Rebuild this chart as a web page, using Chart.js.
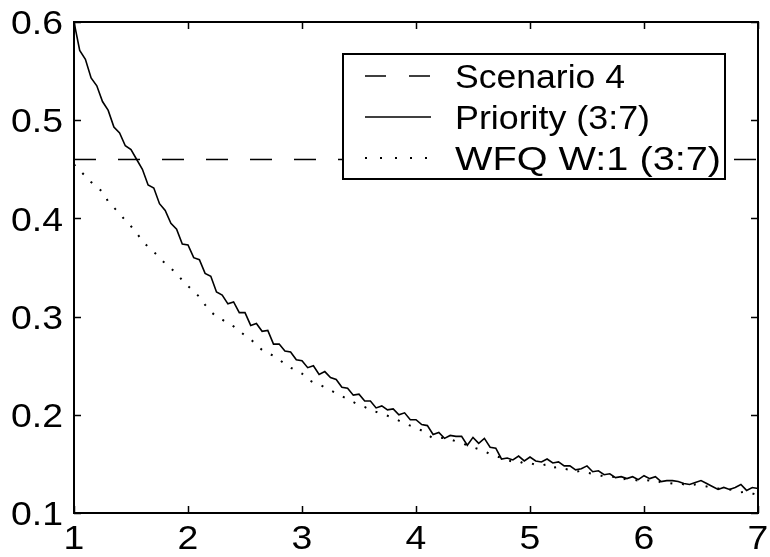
<!DOCTYPE html>
<html>
<head>
<meta charset="utf-8">
<script src="https://cdn.jsdelivr.net/npm/chart.js@4.4.1/dist/chart.umd.min.js"></script>
<style>
  html, body { margin: 0; padding: 0; background: #fff; }
</style>
</head>
<body>
<canvas id="chart" width="770" height="557"></canvas>
<script>
"use strict";

const xValues = [
  1.00, 1.05, 1.10, 1.15, 1.20, 1.25, 1.30, 1.35, 1.40, 1.45,
  1.50, 1.55, 1.60, 1.65, 1.70, 1.75, 1.80, 1.85, 1.90, 1.95,
  2.00, 2.05, 2.10, 2.15, 2.20, 2.25, 2.30, 2.35, 2.40, 2.45,
  2.50, 2.55, 2.60, 2.65, 2.70, 2.75, 2.80, 2.85, 2.90, 2.95,
  3.00, 3.05, 3.10, 3.15, 3.20, 3.25, 3.30, 3.35, 3.40, 3.45,
  3.50, 3.55, 3.60, 3.65, 3.70, 3.75, 3.80, 3.85, 3.90, 3.95,
  4.00, 4.05, 4.10, 4.15, 4.20, 4.25, 4.30, 4.35, 4.40, 4.45,
  4.50, 4.55, 4.60, 4.65, 4.70, 4.75, 4.80, 4.85, 4.90, 4.95,
  5.00, 5.05, 5.10, 5.15, 5.20, 5.25, 5.30, 5.35, 5.40, 5.45,
  5.50, 5.55, 5.60, 5.65, 5.70, 5.75, 5.80, 5.85, 5.90, 5.95,
  6.00, 6.05, 6.10, 6.15, 6.20, 6.25, 6.30, 6.35, 6.40, 6.45,
  6.50, 6.55, 6.60, 6.65, 6.70, 6.75, 6.80, 6.85, 6.90, 6.95,
  7.00
];

const priorityValues = [
  0.600, 0.571, 0.562, 0.543, 0.535, 0.519, 0.510, 0.493, 0.487, 0.474,
  0.470, 0.460, 0.450, 0.434, 0.431, 0.415, 0.408, 0.395, 0.389, 0.374,
  0.373, 0.360, 0.358, 0.344, 0.341, 0.325, 0.322, 0.313, 0.315, 0.304,
  0.304, 0.291, 0.293, 0.285, 0.286, 0.272, 0.272, 0.265, 0.264, 0.256,
  0.255, 0.248, 0.250, 0.241, 0.244, 0.238, 0.236, 0.228, 0.227, 0.220,
  0.221, 0.214, 0.214, 0.207, 0.209, 0.205, 0.206, 0.200, 0.202, 0.195,
  0.195, 0.190, 0.189, 0.180, 0.182, 0.176, 0.179, 0.178, 0.178, 0.169,
  0.177, 0.171, 0.176, 0.167, 0.166, 0.155, 0.156, 0.154, 0.158, 0.153,
  0.157, 0.153, 0.152, 0.155, 0.151, 0.152, 0.148, 0.148, 0.144, 0.145,
  0.148, 0.142, 0.143, 0.139, 0.140, 0.136, 0.137, 0.135, 0.137, 0.134,
  0.138, 0.135, 0.137, 0.132, 0.133, 0.133, 0.132, 0.130, 0.129, 0.131,
  0.133, 0.130, 0.127, 0.124, 0.126, 0.124, 0.126, 0.129, 0.123, 0.126,
  0.125
];

const wfqValues = [
  0.455, 0.449, 0.443, 0.437, 0.432, 0.427, 0.417, 0.411, 0.405, 0.398,
  0.392, 0.385, 0.377, 0.371, 0.366, 0.360, 0.354, 0.349, 0.344, 0.337,
  0.331, 0.326, 0.320, 0.312, 0.305, 0.300, 0.297, 0.293, 0.290, 0.285,
  0.281, 0.277, 0.271, 0.266, 0.263, 0.260, 0.256, 0.252, 0.248, 0.245,
  0.242, 0.236, 0.233, 0.231, 0.228, 0.225, 0.222, 0.219, 0.216, 0.213,
  0.210, 0.208, 0.205, 0.203, 0.201, 0.199, 0.197, 0.194, 0.191, 0.189,
  0.187, 0.184, 0.180, 0.176, 0.177, 0.176, 0.175, 0.173, 0.171, 0.169,
  0.167, 0.165, 0.163, 0.160, 0.158, 0.156, 0.154, 0.152, 0.153, 0.150,
  0.151, 0.149, 0.148, 0.150, 0.146, 0.147, 0.145, 0.144, 0.142, 0.143,
  0.141, 0.140, 0.139, 0.137, 0.138, 0.136, 0.134, 0.135, 0.134, 0.133,
  0.134, 0.133, 0.134, 0.131, 0.131, 0.130, 0.131, 0.129, 0.128, 0.129,
  0.128, 0.127, 0.126, 0.125, 0.124, 0.124, 0.123, 0.121, 0.122, 0.120,
  0.118
];

const scenarioX = [1, 7];
const scenarioValues = [0.46, 0.46];

const seriesLabels = ["Scenario 4", "Priority (3:7)", "WFQ W:1 (3:7)"];
const xTicks = [1, 2, 3, 4, 5, 6, 7];
const yTicks = [0.1, 0.2, 0.3, 0.4, 0.5, 0.6];

const fontFamily = "'Liberation Sans', Arial, Helvetica, sans-serif";
const fontSize = 34;
const tickStretch = 1.1;
const legendTextWidths = [170, 195, 266];

function toPoints(xs, ys) {
  const points = [];
  for (let i = 0; i < xs.length; i++) {
    points.push({ x: xs[i], y: ys[i] });
  }
  return points;
}

// text a bit wider than the font, the way the old figure renders it
function wideText(ctx, text, x, y, align, stretch) {
  ctx.save();
  ctx.translate(x, y);
  ctx.scale(stretch, 1);
  ctx.textAlign = align;
  ctx.fillText(text, 0, 0);
  ctx.restore();
}

// matlab style box with ticks pointing inward, tick labels, and the boxed legend
const frameAndLegend = {
  id: "frameAndLegend",
  afterDatasetsDraw(chart) {
    const ctx = chart.ctx;
    const area = chart.chartArea;
    const xScale = chart.scales.x;
    const yScale = chart.scales.y;
    const tick = 7;

    ctx.save();
    ctx.strokeStyle = "#000";
    ctx.lineWidth = 1.5;
    ctx.setLineDash([]);
    ctx.beginPath();
    for (const t of xTicks) {
      const px = Math.round(xScale.getPixelForValue(t)) + 0.5;
      ctx.moveTo(px, area.bottom);
      ctx.lineTo(px, area.bottom - tick);
      ctx.moveTo(px, area.top);
      ctx.lineTo(px, area.top + tick);
    }
    for (const t of yTicks) {
      const py = Math.round(yScale.getPixelForValue(t)) + 0.5;
      ctx.moveTo(area.left, py);
      ctx.lineTo(area.left + tick, py);
      ctx.moveTo(area.right, py);
      ctx.lineTo(area.right - tick, py);
    }
    ctx.stroke();

    ctx.lineWidth = 2;
    ctx.strokeRect(area.left, area.top, area.right - area.left, area.bottom - area.top);

    // tick labels
    ctx.fillStyle = "#000";
    ctx.font = fontSize + "px " + fontFamily;
    ctx.textBaseline = "alphabetic";
    const capHalf = fontSize * 0.358;
    for (const t of xTicks) {
      wideText(ctx, String(t), xScale.getPixelForValue(t), area.bottom + 36, "center", tickStretch);
    }
    for (const t of yTicks) {
      wideText(ctx, t.toFixed(1), area.left - 11, yScale.getPixelForValue(t) + capHalf, "right", tickStretch);
    }

    // legend box
    const box = { left: 343, top: 54, right: 725, bottom: 179 };
    ctx.fillStyle = "#fff";
    ctx.fillRect(box.left, box.top, box.right - box.left, box.bottom - box.top);
    ctx.lineWidth = 2;
    ctx.strokeRect(box.left, box.top, box.right - box.left, box.bottom - box.top);

    const rows = [76, 117, 158];
    chart.data.datasets.forEach((ds, i) => {
      const y = rows[i];
      ctx.strokeStyle = "#000";
      ctx.lineWidth = ds.borderWidth;
      ctx.setLineDash(ds.legendDash || []);
      ctx.beginPath();
      ctx.moveTo(365, y);
      ctx.lineTo(431, y);
      ctx.stroke();
      ctx.setLineDash([]);
      ctx.fillStyle = "#000";
      const natural = ctx.measureText(ds.label).width;
      wideText(ctx, ds.label, 455, y + capHalf, "left", legendTextWidths[i] / natural);
    });
    ctx.restore();
  }
};

const chart = new Chart(document.getElementById("chart"), {
  type: "line",
  data: {
    datasets: [
      {
        label: seriesLabels[0],
        data: toPoints(scenarioX, scenarioValues),
        borderColor: "#000",
        borderWidth: 1.5,
        borderDash: [22, 22],
        legendDash: [21, 23],
        pointRadius: 0,
        tension: 0,
      },
      {
        label: seriesLabels[1],
        data: toPoints(xValues, priorityValues),
        borderColor: "#000",
        borderWidth: 1.6,
        pointRadius: 0,
        tension: 0,
      },
      {
        label: seriesLabels[2],
        data: toPoints(xValues, wfqValues),
        borderColor: "#000",
        borderWidth: 2,
        borderDash: [2, 10],
        legendDash: [2, 13],
        pointRadius: 0,
        tension: 0,
      },
    ],
  },
  options: {
    responsive: false,
    animation: false,
    layout: {
      padding: { left: 0, right: 12, top: 22, bottom: 0 },
    },
    plugins: {
      legend: { display: false },
      tooltip: { enabled: false },
    },
    scales: {
      x: {
        type: "linear",
        min: 1,
        max: 7,
        grid: { display: false, drawTicks: false },
        border: { display: false },
        afterBuildTicks: (scale) => {
          scale.ticks = xTicks.map((v) => ({ value: v }));
        },
        afterFit: (scale) => {
          scale.height = 44;
        },
        ticks: { display: false },
      },
      y: {
        type: "linear",
        min: 0.1,
        max: 0.6,
        grid: { display: false, drawTicks: false },
        border: { display: false },
        afterBuildTicks: (scale) => {
          scale.ticks = yTicks.map((v) => ({ value: v }));
        },
        afterFit: (scale) => {
          scale.width = 74;
        },
        ticks: { display: false },
      },
    },
  },
  plugins: [frameAndLegend],
});
</script>
</body>
</html>
